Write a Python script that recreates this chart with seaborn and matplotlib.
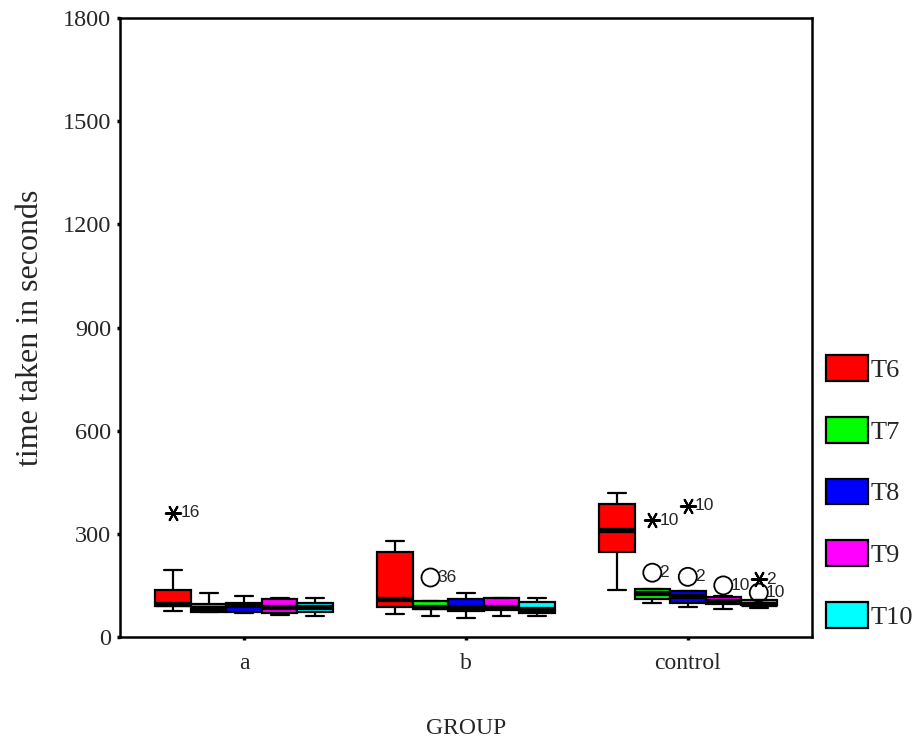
import pandas as pd
import numpy as np
import matplotlib.pyplot as plt
import seaborn as sns

# grupos y series
grupos = ['a', 'b', 'control']
series = ['T6', 'T7', 'T8', 'T9', 'T10']
colores = ['#FF0000', '#00FF00', '#0000FF', '#FF00FF', '#00FFFF']

# resumen de cada caja (a, b, control): bigote inf, Q1, mediana, Q3, bigote sup
t6_low = [76, 66, 136]
t6_q1 = [90, 87, 248]
t6_med = [97, 110, 311]
t6_q3 = [137, 248, 387]
t6_high = [195, 279, 419]

t7_low = [73, 60, 98]
t7_q1 = [73, 81, 110]
t7_med = [83, 87, 127]
t7_q3 = [97, 105, 139]
t7_high = [129, 105, 139]

t8_low = [71, 55, 87]
t8_q1 = [73, 76, 98]
t8_med = [93, 87, 119]
t8_q3 = [99, 110, 134]
t8_high = [119, 129, 134]

t9_low = [64, 60, 81]
t9_q1 = [71, 78, 96]
t9_med = [87, 88, 105]
t9_q3 = [110, 113, 115]
t9_high = [113, 113, 119]

t10_low = [60, 60, 83]
t10_q1 = [73, 69, 93]
t10_med = [86, 81, 97]
t10_q3 = [98, 103, 108]
t10_high = [113, 113, 108]

# outliers (circulos y asteriscos)
circ_grupo = ['b', 'control', 'control', 'control', 'control']
circ_serie = ['T7', 'T7', 'T8', 'T9', 'T10']
circ_valor = [173, 187, 175, 150, 129]
circ_label = ['36', '2', '2', '10', '10']

star_grupo = ['a', 'control', 'control', 'control']
star_serie = ['T6', 'T7', 'T8', 'T10']
star_valor = [361, 340, 382, 168]
star_label = ['16', '10', '10', '2']

resumen = {
    'T6': [t6_low, t6_q1, t6_med, t6_q3, t6_high],
    'T7': [t7_low, t7_q1, t7_med, t7_q3, t7_high],
    'T8': [t8_low, t8_q1, t8_med, t8_q3, t8_high],
    'T9': [t9_low, t9_q1, t9_med, t9_q3, t9_high],
    'T10': [t10_low, t10_q1, t10_med, t10_q3, t10_high],
}

filas = []
for s in series:
    for gi, g in enumerate(grupos):
        for stat in resumen[s]:
            filas.append({'GROUP': g, 'serie': s, 'tiempo': stat[gi]})
datos = pd.DataFrame(filas)

circ = pd.DataFrame({'GROUP': circ_grupo, 'serie': circ_serie, 'tiempo': circ_valor})
star = pd.DataFrame({'GROUP': star_grupo, 'serie': star_serie, 'tiempo': star_valor})

# %% grafico
sns.set_style('ticks')
plt.rcParams['font.family'] = ['Liberation Serif', 'DejaVu Serif']

fig = plt.figure(figsize=(9.18, 7.40), dpi=100)
ax = fig.add_axes([120/918, 1 - 637/740, 692/918, 619/740])

sns.boxplot(data=datos, x='GROUP', y='tiempo', hue='serie', order=grupos, hue_order=series,
            palette=colores, saturation=1, whis=(0, 100), linecolor='black', linewidth=1.6,
            width=0.8, gap=0, medianprops={'linewidth': 3.8}, ax=ax)

n0 = len(ax.collections)
sns.stripplot(data=circ, x='GROUP', y='tiempo', hue='serie', order=grupos, hue_order=series,
              dodge=True, jitter=False, palette=['black'] * 5, marker='o', size=13,
              legend=False, ax=ax)
for c in ax.collections[n0:]:
    c.set_facecolor('none')
    c.set_edgecolor('black')
    c.set_linewidth(1.3)

n0 = len(ax.collections)
sns.stripplot(data=star, x='GROUP', y='tiempo', hue='serie', order=grupos, hue_order=series,
              dodge=True, jitter=False, palette=['black'] * 5, marker=(6, 2, 90), size=11,
              linewidth=1.5, legend=False, ax=ax)
for c in ax.collections[n0:]:
    c.set_edgecolor('black')

# etiquetas de los outliers
ancho = 0.8 / len(series)
for g, s, v, t in zip(circ_grupo + star_grupo, circ_serie + star_serie,
                      circ_valor + star_valor, circ_label + star_label):
    xpos = grupos.index(g) + (series.index(s) - 2) * ancho
    ax.annotate(t, (xpos, v), xytext=(5, 0), textcoords='offset points', ha='left', va='center',
                fontsize=12.5, family='Liberation Sans')

ax.set_xlim(-0.56, 2.56)
ax.set_ylim(0, 1800)
ax.set_yticks(np.arange(0, 1801, 300))
ax.set_xlabel('GROUP', fontsize=17, labelpad=32)
ax.set_ylabel('time taken in seconds', fontsize=23, labelpad=13)
ax.tick_params(axis='both', length=2.5, width=2.5, color='black')
ax.tick_params(axis='x', pad=9, labelsize=17)
ax.tick_params(axis='y', pad=4, labelsize=17.5)
for sp in ax.spines.values():
    sp.set_visible(True)
    sp.set_linewidth(1.8)
    sp.set_color('black')

sns.move_legend(ax, 'upper left', bbox_to_anchor=(1.02, 0.455), frameon=False, title=None,
                fontsize=19, handlelength=1.6, handleheight=1.12, labelspacing=1.32,
                handletextpad=0.1, borderpad=0, borderaxespad=0)
for h in ax.get_legend().legend_handles:
    h.set_edgecolor('black')
    h.set_linewidth(1.6)

fig.savefig('out.png', dpi=100)
